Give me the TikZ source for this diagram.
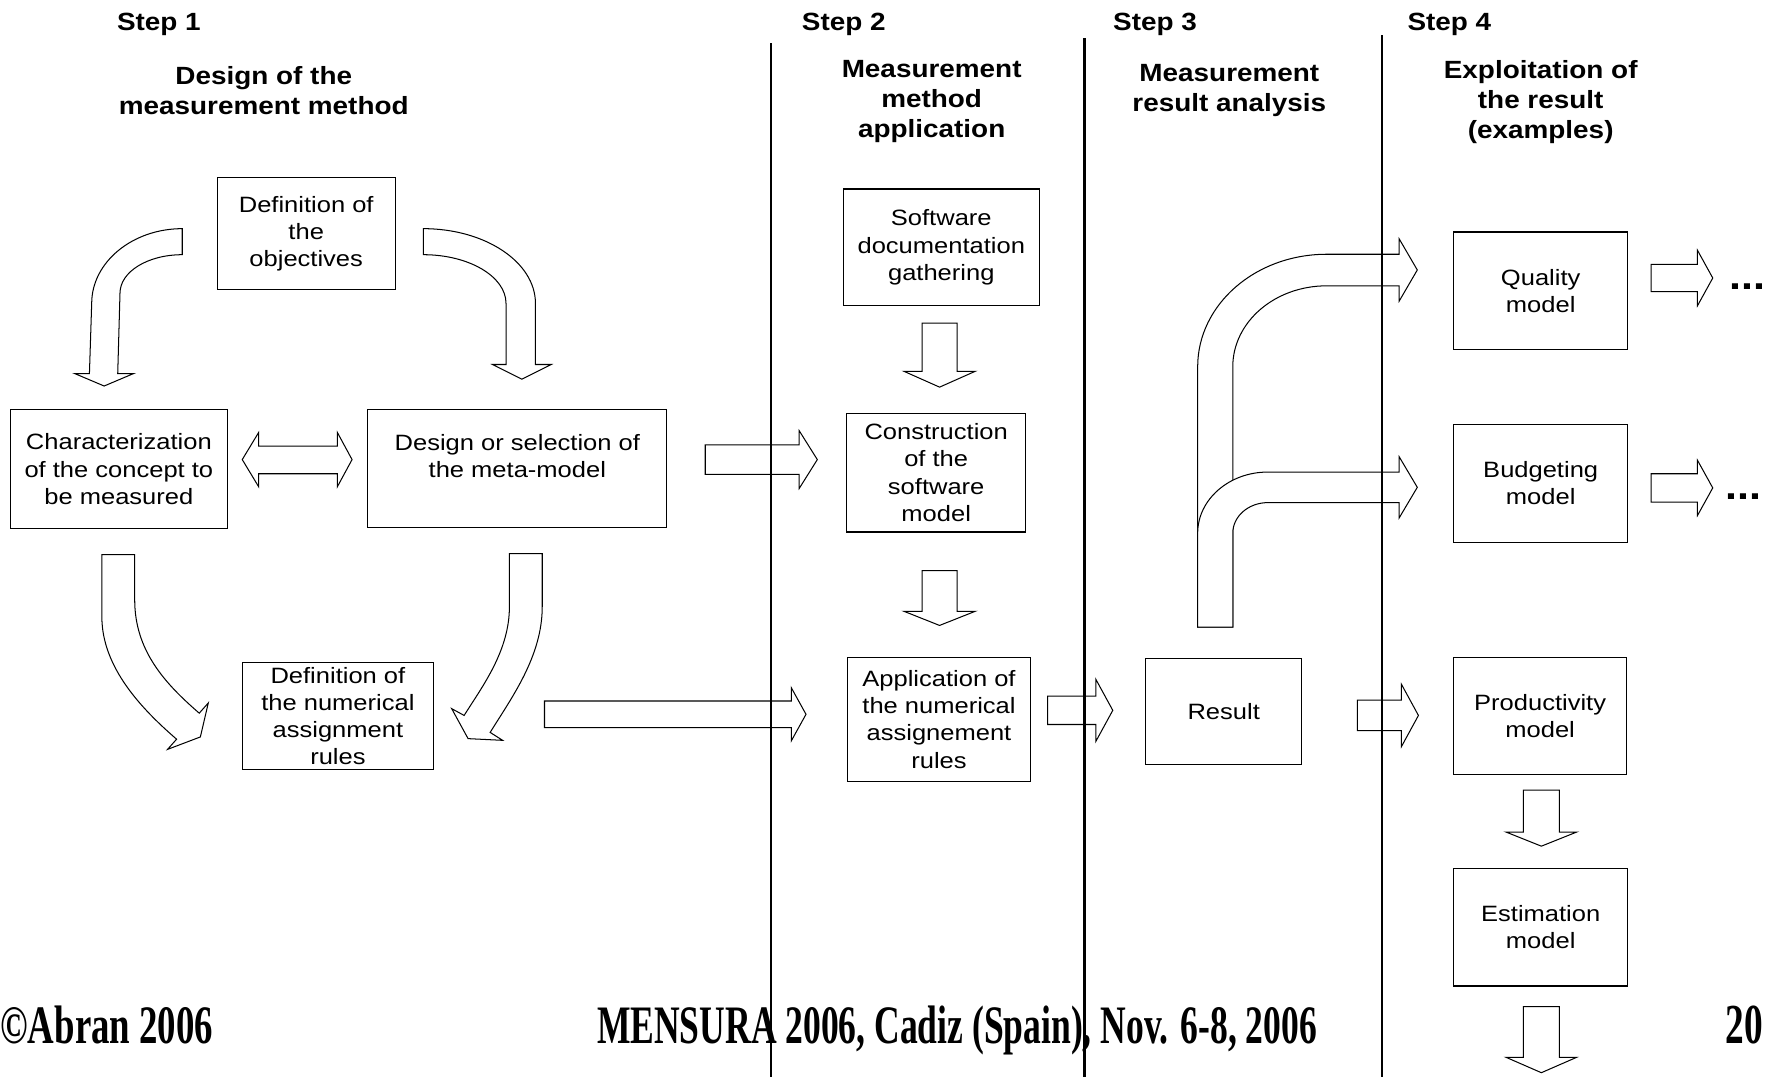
\documentclass[tikz,border=0pt]{standalone}
\usepackage{fontspec}
\setmainfont{Liberation Sans}
\newfontfamily\boxfont{Liberation Sans}[FakeStretch=1.15]
\newfontfamily\headfont{Liberation Sans}[FakeStretch=1.12]
\newfontfamily\footserif{Liberation Serif}

% horizontal block arrow: tail x, head base x, tip x, axis y, shaft half width, head half width
\newcommand\hblockarrow[6]{%
  \draw[blk] (#1,#4-#5) -- (#2,#4-#5) -- (#2,#4-#6) -- (#3,#4)
    -- (#2,#4+#6) -- (#2,#4+#5) -- (#1,#4+#5) -- cycle;}
% vertical block arrow: axis x, top y, head base y, tip y, shaft half width, head half width
\newcommand\vblockarrow[6]{%
  \draw[blk] (#1-#5,#2) -- (#1+#5,#2) -- (#1+#5,#3) -- (#1+#6,#3)
    -- (#1,#4) -- (#1-#6,#3) -- (#1-#5,#3) -- cycle;}

\tikzset{
  box/.style={draw, line width=0.5pt, inner sep=0pt, align=center,
    font=\boxfont\fontsize{9.8}{12}\selectfont},
  boxtext/.style={inner sep=0pt, align=center, font=\boxfont\fontsize{9.8}{12}\selectfont},
  sz/.style 2 args={minimum width=#1*0.5pt, minimum height=#2*0.5pt},
  blk/.style={draw, fill=white, line width=0.45pt, line join=miter},
  divider/.style={line width=1.1pt},
  steplabel/.style={inner sep=0pt, anchor=base west, font=\headfont\bfseries\fontsize{11}{12}\selectfont},
  colhead/.style={inner sep=0pt, align=center, font=\headfont\bfseries\fontsize{11}{13.2}\selectfont},
  more/.style={inner sep=0pt, anchor=base west, font=\headfont\bfseries\fontsize{17}{17}\selectfont},
  foot/.style={inner sep=0pt, anchor=base west},
}

\begin{document}
\begin{tikzpicture}[x=0.5pt, y=-0.5pt]
\useasboundingbox (0,0) rectangle (1568,951);
\fill[white] (0,0) rectangle (1568,951);

% ---- column headings
\node[steplabel] (s1) at (103,27) {Step 1};
\node[steplabel] (s2) at (708,27) {Step 2};
\node[steplabel] (s3) at (983,27) {Step 3};
\node[steplabel] (s4) at (1243,27) {Step 4};
\node[colhead] (h1) at (233,80) {Design of the\\measurement method};
\node[colhead] (h2) at (823,90) {Measurement\\method\\application};
\node[colhead] (h3) at (1086,80) {Measurement\\result analysis};
\node[colhead] (h4) at (1361,90) {Exploitation of\\the result\\(examples)};

% ---- step 1: design of the measurement method
\draw[blk] (161,202) .. controls (117,202) and (81,231.6) .. (81,268) -- (79,330)
  -- (66,330) -- (92,341) -- (118,330) -- (104,330) -- (106,259)
  .. controls (106,240) and (130.6,225) .. (161,225) -- cycle;
\draw[blk] (374,202) .. controls (428.6,202) and (473,231.6) .. (473,268) -- (473,322)
  -- (487,322) -- (461,335) -- (435,322) -- (447,322) -- (447,268)
  .. controls (447,244.3) and (414.3,225) .. (374,225) -- cycle;
\draw[blk] (214,406) -- (228.5,382) -- (228.5,394) -- (298,394) -- (298,382) -- (311,406)
  -- (298,430) -- (298,418.5) -- (228.5,418.5) -- (228.5,430) -- cycle;
\draw[blk] (90,490) -- (119,490) -- (119,530) .. controls (119,575) and (146,604) .. (176,630)
  -- (184,621) -- (177,651) -- (148,662) -- (156,653)
  .. controls (126,627) and (90,590) .. (90,545) -- cycle;
\draw[blk] (450,489) -- (479,489) -- (479,536) .. controls (479,580) and (451.5,617) .. (433,647)
  -- (444,654) -- (413.5,652.5) -- (399,626) -- (410,632)
  .. controls (426,606.5) and (450,575) .. (450,536) -- cycle;

\node[box, sz={157}{99}] (defobj) at (270.5,206.5) {Definition of\\the\\objectives};
\node[box, sz={192}{105}] (charac) at (105,414.5) {Characterization\\of the concept to\\be measured};
\node[box, sz={264}{104}] (design) at (457,414) {};
\node[boxtext] (designtxt) at (457,403) {Design or selection of\\the meta-model};
\node[box, sz={169}{95}] (defnum) at (298.5,632.5) {Definition of\\the numerical\\assignment\\rules};

% ---- step 2: measurement method application
\node[box, sz={173}{103}] (softdoc) at (831.5,218.5) {Software\\documentation\\gathering};
\node[box, sz={158}{105}] (constr) at (827,417.5) {Construction\\of the\\software\\model};
\node[box, sz={161}{109}] (appnum) at (829.5,635.5) {Application of\\the numerical\\assignement\\rules};
\hblockarrow{623}{706}{722}{406}{13}{25.5}
\hblockarrow{481}{699}{712}{631}{11.75}{23.5}
\vblockarrow{830}{285.5}{328}{342}{15.5}{31.5}
\vblockarrow{830}{504}{540}{552.5}{15.5}{31.5}

% ---- step 3: measurement result analysis
\node[box, sz={138}{93}] (result) at (1081,628.5) {Result};
\hblockarrow{925.5}{968}{983}{627.5}{12.5}{27.5}
\draw[blk] (1058,554) -- (1058,324) .. controls (1058,269) and (1109,224.6) .. (1172,224.6)
  -- (1236,224.6) -- (1236,211) -- (1252,238.5) -- (1236,266) -- (1236,252.5) -- (1172,252.5)
  .. controls (1126,252.5) and (1089,284.5) .. (1089,324) -- (1089,554) -- cycle;
\draw[blk] (1058,554) -- (1058,471) .. controls (1058,441.2) and (1085.8,417) .. (1120,417)
  -- (1236,417) -- (1236,403.5) -- (1252,430.5) -- (1236,457.5) -- (1236,444) -- (1120,444)
  .. controls (1102.9,444) and (1089,456.1) .. (1089,471) -- (1089,554) -- cycle;

% ---- step 4: exploitation of the result
\node[box, sz={154}{104}] (quality) at (1361,257) {Quality\\model};
\node[box, sz={154}{104}] (budget) at (1361,427) {Budgeting\\model};
\node[box, sz={153}{103}] (product) at (1360.5,632.5) {Productivity\\model};
\node[box, sz={154}{104}] (estim) at (1361,819) {Estimation\\model};
\hblockarrow{1199}{1238}{1253}{632}{13.5}{27.5}
\hblockarrow{1458.5}{1499.5}{1513}{245.6}{12.1}{24.5}
\hblockarrow{1458.5}{1499.5}{1513}{431}{12.5}{24.4}
\vblockarrow{1361.6}{698}{735}{747.5}{16}{31.2}
\vblockarrow{1361.6}{889.3}{934}{947.6}{16}{31.2}
\node[more] (moreq) at (1527,256) {...};
\node[more] (moreb) at (1524,441) {...};

% ---- footer
\node[foot] (copy) at (0,922) {\resizebox{94pt}{16.6pt}{\footserif\bfseries ©Abran 2006}};
\node[foot] (conf) at (527,922) {\resizebox{318pt}{16.6pt}{\footserif\bfseries MENSURA 2006, Cadiz (Spain), Nov. 6-8, 2006}};
\node[foot] (page) at (1524,922) {\resizebox{16.5pt}{16.6pt}{\footserif\bfseries 20}};

% ---- column dividers
\draw[divider] (681,38) -- (681,951);
\draw[divider] (958,34) -- (958,951);
\draw[divider] (1221,31) -- (1221,951);
\end{tikzpicture}
\end{document}
